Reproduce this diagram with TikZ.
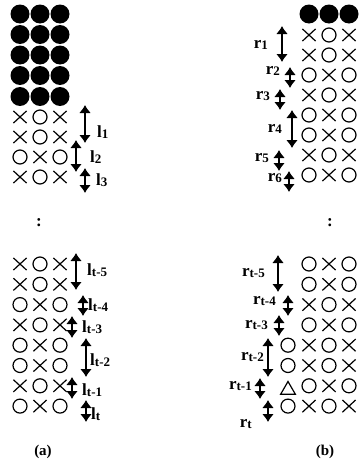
\documentclass[tikz,border=0pt]{standalone}
\usepackage{fontspec}
\setmainfont{Liberation Serif}
\usetikzlibrary{arrows.meta,shapes.misc,shapes.geometric}

\newcommand{\runlab}[2]{#1\raisebox{-1.5pt}{\fontsize{13}{13}\selectfont #2}}

\begin{document}
\begin{tikzpicture}[x=1pt,y=-1pt,
  dot/.style={circle, fill=black, minimum size=19pt, inner sep=0pt},
  om/.style={circle, draw, line width=1.2pt, minimum size=14pt, inner sep=0pt},
  xm/.style={cross out, draw, line width=1.2pt, minimum width=12pt, minimum height=11pt, inner sep=0pt},
  tm/.style={regular polygon, regular polygon sides=3, draw, line width=1.2pt, minimum size=17pt, inner sep=0pt},
  run/.style={{Latex[length=8pt,width=12pt]}-{Latex[length=8pt,width=12pt]}, line width=2.6pt},
  lab/.style={font=\fontsize{17}{17}\bfseries\selectfont, inner sep=0pt},
]
\useasboundingbox (0,0) rectangle (361,466);
% --- panel (a): filled rows ---
\foreach \y [count=\i] in {14,34.5,55,75.5,96.5}
  \foreach \x [count=\j] in {20,40,60}
    \node[dot] (ad-\i-\j) at (\x,\y) {};
% --- panel (a): upper rows ---
\foreach \y/\p/\q/\s [count=\i] in {117/xm/om/xm,137/xm/om/xm,157/om/xm/om,177/xm/om/xm} {
  \node[\p] (au-\i-1) at (20,\y) {};
  \node[\q] (au-\i-2) at (40,\y) {};
  \node[\s] (au-\i-3) at (60,\y) {};
}
% --- panel (a): lower rows ---
\foreach \p/\q/\s [count=\i] in {xm/om/xm,xm/om/xm,om/xm/om,xm/om/xm,om/xm/om,om/xm/om,xm/om/xm,om/xm/om} {
  \pgfmathsetmacro{\y}{243.7+\i*20.3}
  \node[\p] (al-\i-1) at (20,\y) {};
  \node[\q] (al-\i-2) at (40,\y) {};
  \node[\s] (al-\i-3) at (60,\y) {};
}
% run lengths l
\foreach \nm/\x/\ya/\yb/\lx/\ly in {1/85/105/143/97/132, 2/76/140/172/90/157, 3/85/168/193/96/180,
    t-5/76/253/290/87/270, t-4/83/295/316/88/305, t-3/72/316/338/82/327,
    t-2/86/338/377/90/360, t-1/72/377/399/82/390, t/86/400/422/91/414} {
  \coordinate (la\nm-top) at (\x,\ya);
  \coordinate (la\nm-bot) at (\x,\yb);
  \draw[run] (la\nm-top) -- (la\nm-bot);
  \node[lab, anchor=west] (la\nm) at (\lx,\ly) {\runlab{l}{\nm}};
}
\node[lab] (agap) at (39,223) {:};
\node[font=\fontsize{15}{15}\bfseries\selectfont] (acap) at (43,452) {(a)};

% --- panel (b): filled row ---
\foreach \x [count=\j] in {309,329,349}
  \node[dot] (bd-\j) at (\x,14) {};
% --- panel (b): upper rows ---
\foreach \y/\p/\q/\s [count=\i] in {35/xm/om/xm,55/xm/om/xm,75/om/xm/om,95/xm/om/xm,
    115/om/xm/om,135/om/xm/om,155/xm/om/xm,175/om/xm/om} {
  \node[\p] (bu-\i-1) at (309,\y) {};
  \node[\q] (bu-\i-2) at (329,\y) {};
  \node[\s] (bu-\i-3) at (349,\y) {};
}
% --- panel (b): lower rows ---
\foreach \p/\q/\s [count=\i] in {om/xm/om,om/xm/om,xm/om/xm,om/xm/om,xm/om/xm,xm/om/xm,om/xm/om,xm/om/xm} {
  \pgfmathsetmacro{\y}{243.7+\i*20.3}
  \node[\p] (bl-\i-1) at (309,\y) {};
  \node[\q] (bl-\i-2) at (329,\y) {};
  \node[\s] (bl-\i-3) at (349,\y) {};
}
\node[om] (bl-5-0) at (288,345.2) {};
\node[om] (bl-6-0) at (288,365.5) {};
\node[tm] (bl-7-0) at (288,390) {};
\node[om] (bl-8-0) at (288,406.1) {};
% run lengths r
\foreach \nm/\x/\ya/\yb/\lx/\ly in {1/282/26/62/268/45, 2/290/67/88/280/71, 3/280/89/110/270/96,
    4/292/110/148/282/129, 5/279/150/171/269/158, 6/289/171/192/282/178,
    t-5/278/255/292/265/273, t-4/288/295/316/276/301, t-3/279/315/336/268/325,
    t-2/268/338/377/264/357, t-1/260/378/399/252/386, t/268/400/422/252/424} {
  \coordinate (rb\nm-top) at (\x,\ya);
  \coordinate (rb\nm-bot) at (\x,\yb);
  \draw[run] (rb\nm-top) -- (rb\nm-bot);
  \node[lab, anchor=east] (rb\nm) at (\lx,\ly) {\runlab{r}{\nm}};
}
\node[lab] (bgap) at (330,223) {:};
\node[font=\fontsize{15}{15}\bfseries\selectfont] (bcap) at (325,452) {(b)};
\end{tikzpicture}
\end{document}
